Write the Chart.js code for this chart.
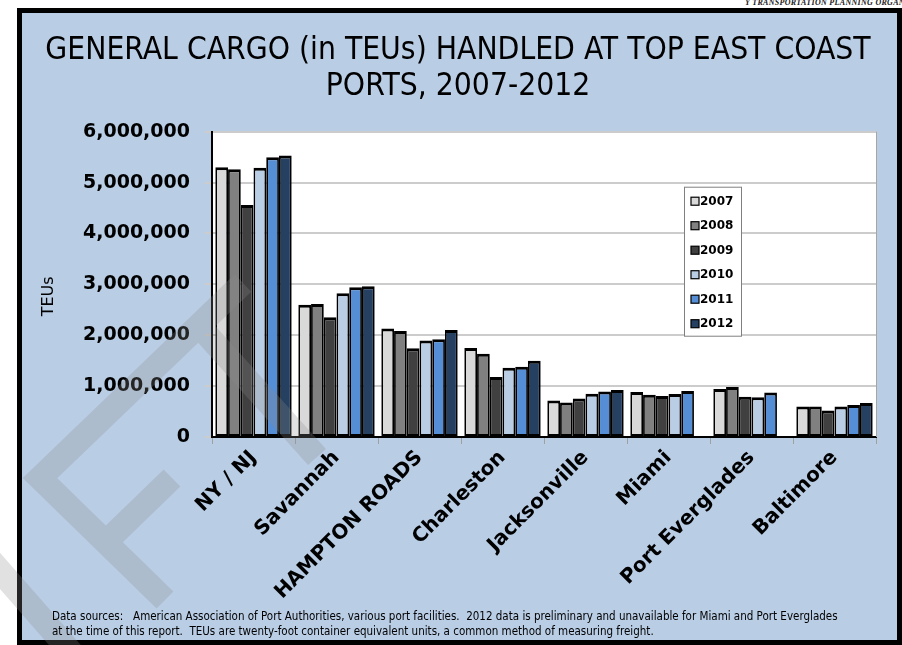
<!DOCTYPE html>
<html>
<head>
<meta charset="utf-8">
<script src="https://cdn.jsdelivr.net/npm/chart.js@4.4.1/dist/chart.umd.min.js"></script>
<style>
  html, body { margin: 0; padding: 0; background: #ffffff; }
  body { width: 902px; height: 645px; position: relative; overflow: hidden; }
  #frame {
    position: absolute; left: 17px; top: 8px; width: 885px; height: 637px;
    box-sizing: border-box; border: 5px solid #000; background: #B9CDE5;
  }
  #org {
    position: absolute; left: 745px; top: -2px; white-space: nowrap;
    font: italic bold 8px "Liberation Serif", serif; color: #222; letter-spacing: 0.3px;
  }
  #wrap { position: absolute; left: 0; top: 0; width: 902px; height: 645px; }
  #note {
    position: absolute; left: 52px; top: 609px; white-space: pre;
    font: 11.5px "DejaVu Sans Condensed", "DejaVu Sans", sans-serif; line-height: 15px; color: #000;
  }
</style>
</head>
<body>
<div id="org">Y TRANSPORTATION PLANNING ORGANIZATION</div>
<div id="frame"></div>
<div id="wrap"><canvas id="chart" width="902" height="645"></canvas></div>
<div id="note">Data sources:   American Association of Port Authorities, various port facilities.  2012 data is preliminary and unavailable for Miami and Port Everglades
at the time of this report.  TEUs are twenty-foot container equivalent units, a common method of measuring freight.</div>
<script>
// Ports and yearly container volumes (TEUs)
const ports = ['NY / NJ', 'Savannah', 'HAMPTON ROADS', 'Charleston', 'Jacksonville', 'Miami', 'Port Everglades', 'Baltimore'];
const years = ['2007', '2008', '2009', '2010', '2011', '2012'];
const teu2007 = [5300000, 2600000, 2130000, 1750000, 715000, 885000, 945000, 600000];
const teu2008 = [5260000, 2615000, 2085000, 1635000, 680000, 830000, 985000, 600000];
const teu2009 = [4560000, 2355000, 1745000, 1180000, 755000, 805000, 790000, 520000];
const teu2010 = [5290000, 2825000, 1895000, 1360000, 850000, 845000, 780000, 600000];
const teu2011 = [5500000, 2945000, 1920000, 1380000, 895000, 905000, 875000, 630000];
const teu2012 = [5530000, 2965000, 2105000, 1500000, 925000, null, null, 670000];
const yTicks = [0, 1000000, 2000000, 3000000, 4000000, 5000000, 6000000];

const seriesValues = [teu2007, teu2008, teu2009, teu2010, teu2011, teu2012];
const seriesColors = ['#D9D9D9', '#808080', '#404040', '#B9CDE5', '#558ED5', '#254061'];

const BODY_FONT = '"DejaVu Sans", sans-serif';

// White plot background, grey right border, axis title, legend box and DRAFT stamp
const decor = {
  id: 'decor',
  beforeDraw(chart) {
    const { ctx, chartArea: a } = chart;
    ctx.save();
    ctx.fillStyle = '#ffffff';
    ctx.fillRect(a.left, a.top, a.right - a.left, a.bottom - a.top);
    ctx.restore();
  },
  beforeDatasetsDraw(chart) {
    const { ctx, chartArea: a } = chart;
    ctx.save();
    ctx.strokeStyle = '#a6a6a6';
    ctx.lineWidth = 1;
    ctx.beginPath();
    ctx.moveTo(a.right + 0.5, a.top);
    ctx.lineTo(a.right + 0.5, a.bottom);
    ctx.stroke();
    // vertical axis title
    ctx.translate(49, (a.top + a.bottom) / 2 + 12);
    ctx.rotate(-Math.PI / 2);
    ctx.fillStyle = '#000';
    ctx.font = '16px ' + BODY_FONT;
    ctx.textAlign = 'center';
    ctx.textBaseline = 'middle';
    ctx.fillText('TEUs', 0, 0);
    ctx.restore();
  },
  afterDatasetsDraw(chart) {
    const { ctx, chartArea: a } = chart;
    const bx = a.left + 472, by = a.top + 55, bw = 58, bh = 150;
    ctx.save();
    ctx.fillStyle = '#ffffff';
    ctx.fillRect(bx, by, bw, bh);
    ctx.strokeStyle = '#808080';
    ctx.lineWidth = 1;
    ctx.strokeRect(bx + 0.5, by + 0.5, bw - 1, bh - 1);
    ctx.font = 'bold 12px ' + BODY_FONT;
    ctx.textBaseline = 'middle';
    chart.data.datasets.forEach((ds, i) => {
      const cy = by + 14.5 + i * 24.5;
      ctx.fillStyle = ds.backgroundColor;
      ctx.fillRect(bx + 7, cy - 4, 8, 8);
      ctx.strokeStyle = '#000';
      ctx.lineWidth = 1.2;
      ctx.strokeRect(bx + 7, cy - 4, 8, 8);
      ctx.fillStyle = '#000';
      ctx.fillText(ds.label, bx + 16, cy + 0.5);
    });
    ctx.restore();
  },
  afterDraw(chart) {
    // faint DRAFT stamp strokes in the lower-left corner
    const ctx = chart.ctx;
    ctx.save();
    ctx.strokeStyle = 'rgba(138,138,138,0.26)';
    ctx.lineWidth = 24;
    ctx.lineCap = 'butt';
    ctx.lineJoin = 'miter';
    ctx.beginPath();
    ctx.moveTo(243, 283); ctx.lineTo(40, 478); ctx.lineTo(165, 600);
    ctx.moveTo(108, 540); ctx.lineTo(172, 478);
    ctx.moveTo(192, 318); ctx.lineTo(317, 457);
    ctx.moveTo(-20, 548); ctx.lineTo(78, 660);
    ctx.stroke();
    ctx.restore();
  }
};

new Chart(document.getElementById('chart'), {
  type: 'bar',
  data: {
    labels: ports,
    datasets: years.map((y, i) => ({
      label: y,
      data: seriesValues[i],
      backgroundColor: seriesColors[i],
      borderColor: '#000000',
      borderWidth: { top: 3, bottom: 2, left: 1.8, right: 1.8 },
      borderSkipped: false,
      categoryPercentage: 0.92,
      barPercentage: 1.0
    }))
  },
  options: {
    responsive: false,
    animation: false,
    devicePixelRatio: 1,
    layout: { padding: { left: 40, right: 26, top: 0, bottom: 0 } },
    plugins: {
      legend: { display: false },
      tooltip: { enabled: false },
      title: {
        display: true,
        text: ['GENERAL CARGO (in TEUs) HANDLED AT TOP EAST COAST', 'PORTS, 2007-2012'],
        color: '#000',
        font: { family: '"Liberation Sans Narrow", "DejaVu Sans Condensed", sans-serif', size: 31.5, weight: 'normal', lineHeight: 1.17 },
        padding: { top: 32, bottom: 26 }
      }
    },
    scales: {
      x: {
        grid: { display: true, drawOnChartArea: false, drawTicks: true, tickLength: 7, color: '#a0a0a0', offset: true },
        border: { display: true, color: '#000', width: 2 },
        ticks: {
          minRotation: 45, maxRotation: 45, autoSkip: false, padding: 2, color: '#000',
          font: { family: BODY_FONT, size: 20, weight: 'bold' }
        },
        afterFit(scale) { scale.height = 208; }
      },
      y: {
        min: 0, max: 6000000,
        afterBuildTicks(scale) { scale.ticks = yTicks.map(v => ({ value: v })); },
        grid: { color: '#cccccc', lineWidth: 2, tickLength: 7, drawTicks: true },
        border: { display: true, color: '#000', width: 2 },
        ticks: {
          padding: 15, color: '#000',
          font: { family: BODY_FONT, size: 19, weight: 'bold' },
          callback: v => v.toLocaleString('en-US')
        },
        afterFit(scale) { scale.width = 172; }
      }
    }
  },
  plugins: [decor]
});
</script>
</body>
</html>
